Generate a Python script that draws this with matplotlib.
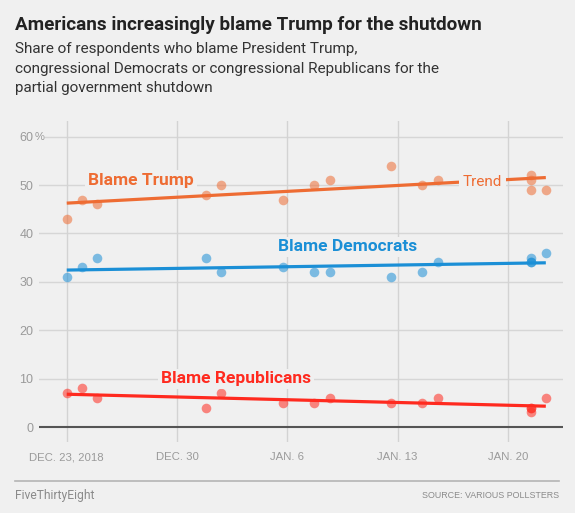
import numpy as np
import matplotlib
matplotlib.use('Agg')
import matplotlib.pyplot as plt
from matplotlib.lines import Line2D
from matplotlib import transforms

# poll dates as days after Dec. 23, 2018
days = [0, 1, 1.95, 8.85, 9.8, 13.75, 15.7, 16.7, 20.6, 22.55, 23.55, 29.45, 29.45, 29.45, 30.4]
trump = [43, 47, 46, 48, 50, 47, 50, 51, 54, 50, 51, 52, 51, 49, 49]
dems = [31, 33, 35, 35, 32, 33, 32, 32, 31, 32, 34, 35, 34, 34, 36]
reps = [7, 8, 6, 4, 7, 5, 5, 6, 5, 5, 6, 4, 4, 3, 6]

tick_days = [0, 7, 14, 21, 28]
tick_labels = ['DEC. 23, 2018', 'DEC. 30', 'JAN. 6', 'JAN. 13', 'JAN. 20']
yticks = [0, 10, 20, 30, 40, 50, 60]

bg = '#f0f0f0'
c_trump = '#ee6c33'
c_dems = '#1b8fd6'
c_reps = '#ff2a1f'

sans = 'Roboto'
narrow = 'Liberation Sans'

W, H = 575, 513
fig = plt.figure(figsize=(W / 100, H / 100), dpi=100, facecolor=bg)
ax = fig.add_axes([39 / W, 1 - 442 / H, 524 / W, 321 / H], facecolor=bg)

ax.set_xlim(-1.76, 31.49)
ax.set_ylim(-3.10, 63.24)

for s in ax.spines.values():
    s.set_visible(False)

# grid
for v in yticks[1:-1]:
    ax.axhline(v, color='#d6d6d6', lw=1, zorder=0)
ax.axhline(60, xmin=6 / 524, color='#d6d6d6', lw=1, zorder=0)
for d in tick_days:
    ax.axvline(d, color='#d3d3d3', lw=1, zorder=0)
ax.axhline(0, color='#555555', lw=1.5, zorder=1)

ax.set_xticks(tick_days, tick_labels)
ax.set_yticks(yticks, [str(v) for v in yticks])
ax.tick_params(length=0, colors='#9a9a9a')
ax.tick_params(axis='x', pad=7.5, labelsize=8.2)
ax.tick_params(axis='y', pad=4, labelsize=9)
for lab in ax.get_xticklabels() + ax.get_yticklabels():
    lab.set_family(narrow)

tr = transforms.blended_transform_factory(fig.transFigure, ax.transData)
ax.text(34.5 / W, 60, '%', transform=tr, ha='left', va='center', color='#9a9a9a',
        fontsize=8, family=narrow)

x = np.array(days)
for vals, col in [(trump, c_trump), (dems, c_dems), (reps, c_reps)]:
    ax.scatter(days, vals, s=48, color=col, alpha=0.55, lw=0, zorder=2)
    k, b = np.polyfit(x, vals, 1)
    xs = np.array([min(days), max(days)])
    ax.plot(xs, k * xs + b, color=col, lw=2.3, zorder=3, solid_capstyle='butt')

box = dict(facecolor=bg, edgecolor='none', pad=2)
ax.text(1.35, 50.1, 'Blame Trump', color=c_trump, fontsize=12.5, fontweight='bold',
        family=sans, va='baseline', zorder=5, bbox=box)
ax.text(13.43, 36.3, 'Blame Democrats', color=c_dems, fontsize=12.5, fontweight='bold',
        family=sans, va='baseline', zorder=5, bbox=box)
ax.text(5.98, 9.0, 'Blame Republicans', color=c_reps, fontsize=12.5, fontweight='bold',
        family=sans, va='baseline', zorder=5, bbox=box)
ax.text(25.13, 49.9, 'Trend', color=c_trump, fontsize=11, family=sans,
        va='baseline', zorder=5, bbox=dict(facecolor=bg, edgecolor='none', pad=3))

# header
fig.text(15 / W, 1 - 30 / H, 'Americans increasingly blame Trump for the shutdown',
         fontsize=13.6, fontweight='bold', family=sans, color='#222222', va='baseline')
sub = ['Share of respondents who blame President Trump,',
       'congressional Democrats or congressional Republicans for the',
       'partial government shutdown']
for i, line in enumerate(sub):
    fig.text(15 / W, 1 - (53.3 + 19.2 * i) / H, line, fontsize=11, family=sans,
             color='#333333', va='baseline')

# footer
fig.add_artist(Line2D([15 / W, 559 / W], [1 - 481 / H] * 2, color='#b5b5b5', lw=1.2))
fig.text(15 / W, 1 - 498.5 / H, 'FiveThirtyEight', fontsize=8.7, family=sans,
         color='#8a8a8a', va='baseline')
fig.text(559 / W, 1 - 498.5 / H, 'SOURCE: VARIOUS POLLSTERS', fontsize=6.4, family=narrow,
         color='#8a8a8a', va='baseline', ha='right')

fig.savefig('out.png', dpi=100, facecolor=bg)
